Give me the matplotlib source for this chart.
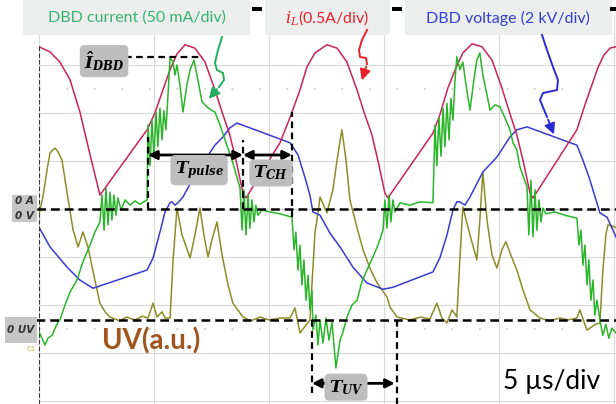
import numpy as np
import matplotlib
matplotlib.use("Agg")
import matplotlib.pyplot as plt
from matplotlib.patches import Rectangle

plt.rcParams["mathtext.fontset"] = "dejavuserif"

# Scope screen: 5 us/div horizontally, values below are in screen divisions
# (DBD current 50 mA/div, iL 0.5 A/div, DBD voltage 2 kV/div, UV a.u.)

# inductor current iL
il_t = [0, 0.48, 0.91, 1.35, 1.78, 2.22, 2.65,
        4.70, 5.04, 5.39, 5.70, 6.00, 6.35,
        6.78, 7.22, 7.65, 7.96, 8.30, 8.61, 8.87, 9.00,
        10.48, 10.91, 11.35, 11.65, 12.00, 12.52,
        12.96, 13.39, 13.83, 14.13, 14.48, 14.78, 15.04, 15.17,
        17.13, 17.43, 17.78, 18.13, 18.43, 18.83,
        19.26, 19.70, 20.13, 20.43, 20.78, 21.09, 21.35, 21.48,
        23.39, 23.74, 24.04, 24.30, 24.57, 24.83, 25.09]
il_div = [3.38, 3.27, 3.06, 2.69, 2.02, 1.13, 0.29,
          1.65, 2.00, 2.48, 2.90, 3.23, 3.42,
          3.35, 3.06, 2.48, 2.02, 1.54, 0.92, 0.33, 0.23,
          1.38, 1.90, 2.48, 2.96, 3.25, 3.42,
          3.35, 3.06, 2.48, 2.02, 1.54, 0.92, 0.33, 0.23,
          1.58, 1.96, 2.52, 2.94, 3.25, 3.44,
          3.38, 3.10, 2.52, 2.06, 1.54, 0.92, 0.33, 0.23,
          1.65, 2.17, 2.58, 2.94, 3.21, 3.35, 3.38]

# DBD voltage
vd_t = [0, 0.48, 1.22, 1.78, 2.35,
        4.70, 4.96, 5.26, 5.48, 5.70, 5.78, 5.91, 6.04, 6.26,
        6.78, 7.30, 7.65, 8.00, 8.30, 8.61,
        10.91, 11.26, 11.57, 11.78, 11.91, 12.22, 12.65, 13.09, 13.65, 14.26, 14.96, 15.39,
        17.13, 17.43, 17.74, 18.00, 18.17, 18.30, 18.52, 18.74,
        19.30, 19.91, 20.48, 20.78, 21.22,
        23.39, 23.65, 23.96, 24.39, 24.70, 25.09]
vd_div = [-0.38, -0.79, -1.21, -1.48, -1.65,
          -1.27, -1.02, -0.48, -0.06, 0.13, 0.15, 0.08, 0.13, 0.25,
          0.71, 1.08, 1.33, 1.50, 1.69, 1.79,
          1.38, 1.13, 0.65, 0.29, -0.06, -0.13, -0.50, -0.79, -1.21, -1.54, -1.67, -1.63,
          -1.31, -1.02, -0.54, -0.02, 0.15, 0.15, 0.08, 0.25,
          0.77, 1.08, 1.50, 1.65, 1.71,
          1.33, 1.02, 0.60, -0.08, -0.17, -0.58]

# UV signal (relative to its own 0 UV marker)
uv_zero = -2.31
uv_t = [0, 0.17, 0.35, 0.48, 0.70, 0.83, 1.00, 1.22, 1.48, 1.70,
        1.91, 2.13, 2.43, 2.65, 2.87, 3.09, 3.52, 3.80, 4.17, 4.50,
        4.74, 4.96, 5.13, 5.35, 5.48, 5.70, 5.83, 6.00, 6.22, 6.57,
        6.78, 7.00, 7.17, 7.35, 7.52, 7.74, 7.96, 8.22, 8.43, 8.87,
        9.20, 9.61, 10.00, 10.48, 10.91, 11.13, 11.35, 11.78, 12.00, 12.13,
        12.22, 12.52, 12.78, 12.96, 13.17, 13.35, 13.52, 13.83, 14.09, 14.39,
        14.70, 15.13, 15.26, 15.57, 16.13, 16.60, 17.00, 17.30, 17.52, 17.74,
        17.96, 18.17, 18.30, 18.43, 18.74, 19.04, 19.17, 19.30, 19.48, 19.70,
        19.91, 20.13, 20.30, 20.52, 20.78, 21.04, 21.35, 21.78, 22.20, 22.65,
        23.00, 23.39, 23.52, 23.70, 23.83, 24.17, 24.39, 24.52, 24.65, 24.74,
        24.91, 25.09]
uv_div = [2.19, 2.56, 3.13, 3.48, 3.58, 3.50, 3.33, 2.65, 1.88, 1.52,
          1.83, 1.52, 0.83, 0.35, 0.17, 0.06, -0.02, 0.06, 0.00, 0.08,
          0.04, 0.35, 0.06, 0.17, 0.04, 0.04, 1.25, 2.33, 1.77, 1.29,
          1.77, 2.33, 1.77, 1.31, 1.67, 2.04, 1.35, 0.73, 0.35, 0.06,
          -0.02, 0.06, 0.00, 0.04, 0.04, 0.25, -0.27, 0.00, 1.81, 2.23,
          2.56, 2.23, 2.71, 3.33, 3.96, 3.33, 2.50, 1.92, 1.46, 1.08,
          0.77, 0.48, 0.27, 0.06, 0.00, 0.06, 0.02, 0.35, 0.04, -0.06,
          0.21, 0.06, 1.25, 2.35, 1.77, 1.25, 2.08, 3.08, 2.08, 1.35,
          1.08, 1.46, 1.63, 1.35, 1.04, 0.63, 0.21, 0.04, -0.02, 0.04,
          0.00, 0.04, 0.21, -0.04, -0.21, -0.10, -0.06, 1.04, 1.77, 1.98,
          1.96, 1.92]

# DBD current
idbd_t = [0, 0.13, 0.26, 0.39, 0.57, 0.70, 0.83, 0.91, 1.13, 1.35,
          1.65, 1.91, 2.22, 2.43, 2.65, 2.74, 2.83, 2.91, 3.00, 3.09,
          3.17, 3.26, 3.35, 3.43, 3.57, 3.74, 3.96, 4.17, 4.39, 4.70,
          # first current pulse
          4.74, 4.83, 4.91, 5.00, 5.09, 5.17, 5.26, 5.35, 5.43, 5.52,
          5.61, 5.70, 5.83, 5.91, 6.00, 6.13, 6.26, 6.43, 6.57, 6.74,
          6.87, 7.09, 7.30, 7.48, 7.65, 7.87, 8.17, 8.43, 8.74, 8.83,
          8.91, 9.00, 9.09, 9.17, 9.26, 9.35, 9.43, 9.52, 9.70, 10.04,
          10.48, 11.00,
          # negative half
          11.09, 11.17, 11.26, 11.35, 11.43, 11.52, 11.61, 11.70, 11.78, 11.87,
          11.91, 12.04, 12.13, 12.22, 12.35, 12.48, 12.61, 12.74, 12.91, 13.09,
          13.22, 13.39, 13.61, 13.83, 14.04, 14.26, 14.52, 14.74, 14.96, 15.04,
          15.13, 15.22, 15.30, 15.39, 15.48, 15.70, 16.13, 16.57, 17.13,
          # second current pulse
          17.22, 17.30, 17.39, 17.48, 17.57, 17.65, 17.74, 17.83, 17.91, 18.00,
          18.09, 18.17, 18.30, 18.43, 18.57, 18.74, 18.91, 19.04, 19.17, 19.30,
          19.48, 19.61, 19.83, 20.04, 20.26, 20.48, 20.61, 20.78, 20.91, 21.22,
          21.30, 21.39, 21.48, 21.57, 21.65, 21.74, 21.83, 21.91, 22.04, 22.43,
          22.87, 23.39,
          23.48, 23.57, 23.65, 23.74, 23.83, 23.91, 24.00, 24.09, 24.17, 24.26,
          24.39, 24.52, 24.65, 24.78, 24.91, 25.09]
idbd_div = [-2.56, -2.69, -2.83, -2.69, -2.63, -2.48, -2.35, -2.31, -2.00, -1.73,
            -1.48, -1.10, -0.75, -0.48, -0.27, 0.29, -0.44, 0.44, -0.33, 0.35,
            -0.23, 0.29, -0.13, 0.23, -0.02, 0.19, 0.08, 0.17, 0.10, 0.19,
            1.75, 0.90, 1.85, 1.10, 2.02, 1.30, 2.10, 1.44, 2.05, 1.65,
            2.38, 3.15, 3.06, 2.79, 3.00, 2.58, 2.02, 2.58, 2.90, 3.10,
            2.79, 2.23, 2.13, 2.06, 2.02, 1.75, 1.33, 0.96, 0.44, -0.44,
            0.40, -0.54, 0.29, -0.40, 0.19, -0.27, 0.08, -0.13, -0.02, -0.06,
            -0.10, -0.17,
            -0.85, -0.48, -1.27, -0.75, -1.58, -1.06, -1.90, -1.38, -2.10, -1.69,
            -2.52, -2.21, -2.83, -2.31, -2.79, -2.27, -2.73, -2.35, -3.31, -2.73,
            -2.56, -2.25, -2.00, -1.90, -1.52, -1.27, -1.00, -0.75, -0.44, 0.19,
            -0.40, 0.29, -0.27, 0.19, -0.06, 0.13, 0.08, 0.15, 0.13,
            1.75, 0.90, 1.90, 1.10, 2.10, 1.30, 2.20, 1.44, 2.30, 1.85,
            2.69, 3.17, 2.90, 3.06, 2.58, 2.06, 2.69, 3.10, 3.25, 2.79,
            2.38, 2.06, 2.17, 2.13, 1.90, 1.65, 1.38, 1.23, 0.88, 0.46,
            -0.54, 0.60, -0.58, 0.40, -0.44, 0.19, -0.27, 0.02, -0.10, -0.06,
            -0.13, -0.19,
            -0.75, -0.44, -1.17, -0.75, -1.58, -1.06, -1.90, -1.48, -2.21, -1.90,
            -2.31, -2.63, -2.40, -2.69, -2.48, -2.58]

# measured times (us) and peak level (div)
t_pulse_start = 4.74
t_pulse_end = 8.87
t_ch_end = 11.0
t_uv_start = 11.87
t_uv_end = 15.57
i_peak = 3.17

c_green = "#2ab52a"
c_red = "#c8245a"
c_blue = "#3a3ad0"
c_olive = "#8c8c2a"

fig = plt.figure(figsize=(6.16, 4.04), dpi=100)
ax = fig.add_axes([39 / 616, 0, 577 / 616, 389 / 404])
ax.set_xlim(0, 25.09)
ax.set_ylim(-4.06, 4.04)
ax.set_xticks(np.arange(0, 26, 5))
ax.set_yticks(np.arange(-4, 4))
ax.grid(True, color="#d8d8d8", lw=0.8)
ax.tick_params(length=0, labelleft=False, labelbottom=False)
for s in ax.spines.values():
    s.set_visible(False)
ax.set_axisbelow(True)
for lvl in (2.5, -2.5):
    ax.axhline(lvl, color="#c8c8c8", lw=1.2, ls=(0, (1, 15.5)))

ax.plot(uv_t, np.array(uv_div) + uv_zero, color=c_olive, lw=1.1, zorder=2)
ax.plot(vd_t, vd_div, color=c_blue, lw=1.1, zorder=3)
ax.plot(il_t, il_div, color=c_red, lw=1.1, zorder=4)
ax.plot(idbd_t, idbd_div, color=c_green, lw=1.1, zorder=5)

# reference / cursor lines
ax.plot([0, 0], [-4.06, 3.4], color="#333333", lw=0.8, ls=(0, (4, 2)), zorder=6)
ax.plot([-0.7, 25.09], [0, 0], color="black", lw=1.8, ls=(0, (3.5, 2)), zorder=7, clip_on=False)
ax.plot([-0.13, 25.09], [uv_zero, uv_zero], color="black", lw=1.8, ls=(0, (3.5, 2)), zorder=7,
        clip_on=False)
ax.plot([3.74, 7.13], [i_peak, i_peak], color="black", lw=1.6, ls=(0, (3, 2)), zorder=7)
dash = dict(color="black", lw=1.6, ls=(0, (3, 2)), zorder=7)
ax.plot([t_pulse_start] * 2, [0, 1.5], **dash)
ax.plot([t_pulse_end] * 2, [0, 1.44], **dash)
ax.plot([t_ch_end] * 2, [-0.17, 2.02], **dash)
ax.plot([t_uv_start] * 2, [uv_zero, -3.83], **dash)
ax.plot([t_uv_end] * 2, [uv_zero, -4.06], **dash)

arw = dict(arrowstyle="<|-|>", color="black", lw=2, mutation_scale=13, shrinkA=0, shrinkB=0)
ax.annotate("", xy=(t_pulse_start, 1.125), xytext=(t_pulse_end, 1.125), arrowprops=arw, zorder=8)
ax.annotate("", xy=(t_pulse_end, 1.125), xytext=(t_ch_end, 1.125), arrowprops=arw, zorder=8)
ax.annotate("", xy=(t_uv_start, -3.63), xytext=(t_uv_end - 0.1, -3.63), arrowprops=arw, zorder=8)

tag = dict(boxstyle="round,pad=0.25,rounding_size=0.3", fc="#bdbdbd", ec="none")
ax.text(2.83, 3.08, r"$\mathbfit{\hat{I}}_{\mathbfit{DBD}}$", fontsize=12, ha="center",
        va="center", bbox=tag, zorder=9)
ax.text(6.96, 0.81, r"$\mathbfit{T}_{\mathbfit{pulse}}$", fontsize=12, ha="center",
        va="center", bbox=tag, zorder=9)
ax.text(10.09, 0.75, r"$\mathbfit{T}_{\mathbfit{CH}}$", fontsize=12, ha="center",
        va="center", bbox=tag, zorder=9)
ax.text(13.35, -3.71, r"$\mathbfit{T}_{\mathbfit{UV}}$", fontsize=12, ha="center",
        va="center", bbox=tag, zorder=9)

ax.text(4.87, -2.75, "UV(a.u.)", fontsize=20, fontweight="bold", family="Lato",
        color="#a0571f", ha="center", va="center", zorder=9)
ax.text(22.3, -3.6, "5 \u00b5s/div", fontsize=19, family="Lato", color="black",
        ha="center", va="center", zorder=9)

# overlay in screen pixels for the channel labels and callouts
deco = fig.add_axes([0, 0, 1, 1], zorder=5)
deco.set_xlim(0, 616)
deco.set_ylim(404, 0)
deco.axis("off")
deco.patch.set_alpha(0)

for x0, x1 in [(23, 250), (265, 390), (405, 612)]:
    deco.add_patch(Rectangle((x0, 0), x1 - x0, 35, fc="#eceeee", ec="none"))
for x0 in (252, 392, 610):
    deco.add_patch(Rectangle((x0, 7), 10, 4, fc="black", ec="none"))

deco.text(137, 18, "DBD current (50 mA/div)", fontsize=11.5, family="Lato",
          color="#34b36c", ha="center", va="center")
deco.text(327, 18, r"$i_L$(0.5A/div)", fontsize=11.5, family="Lato",
          color="#e8212b", ha="center", va="center")
deco.text(508, 18, "DBD voltage (2 kV/div)", fontsize=11.5, family="Lato",
          color="#3040d0", ha="center", va="center")

# squiggly callouts
deco.plot([222, 218, 215, 217, 223, 224, 219], [37, 50, 63, 70, 73, 80, 87], color="#22b060", lw=1.4)
deco.annotate("", xy=(207, 101), xytext=(219, 87),
              arrowprops=dict(arrowstyle="-|>", color="#22b060", lw=1.4, mutation_scale=16))
deco.plot([367, 362, 359, 360, 366, 367], [30, 40, 50, 57, 58, 64], color="#e8212b", lw=1.4)
deco.annotate("", xy=(361, 83), xytext=(367, 64),
              arrowprops=dict(arrowstyle="-|>", color="#e8212b", lw=1.4, mutation_scale=16))
deco.plot([542, 547, 553, 558, 557, 543, 540, 547], [35, 50, 67, 80, 90, 93, 100, 117],
          color="#2a2ad8", lw=1.4)
deco.annotate("", xy=(555, 137), xytext=(547, 117),
              arrowprops=dict(arrowstyle="-|>", color="#2a2ad8", lw=1.4, mutation_scale=16))

# channel offset markers on the left
deco.add_patch(Rectangle((12, 195), 25, 27, fc="#c6c6c6", ec="none"))
deco.text(24, 201, "0 A", fontsize=7.5, style="italic", fontweight="bold", color="#333333",
          ha="center", va="center")
deco.text(24, 216, "0 V", fontsize=7.5, style="italic", fontweight="bold", color="#333333",
          ha="center", va="center")
deco.add_patch(Rectangle((5, 317), 32, 26, fc="#c6c6c6", ec="none"))
deco.text(21, 330, "0 UV", fontsize=7.5, style="italic", fontweight="bold", color="#333333",
          ha="center", va="center")
deco.text(31, 349, "C1", fontsize=5, color="#b8b820", ha="center", va="center")

fig.savefig("out.png", dpi=100)
